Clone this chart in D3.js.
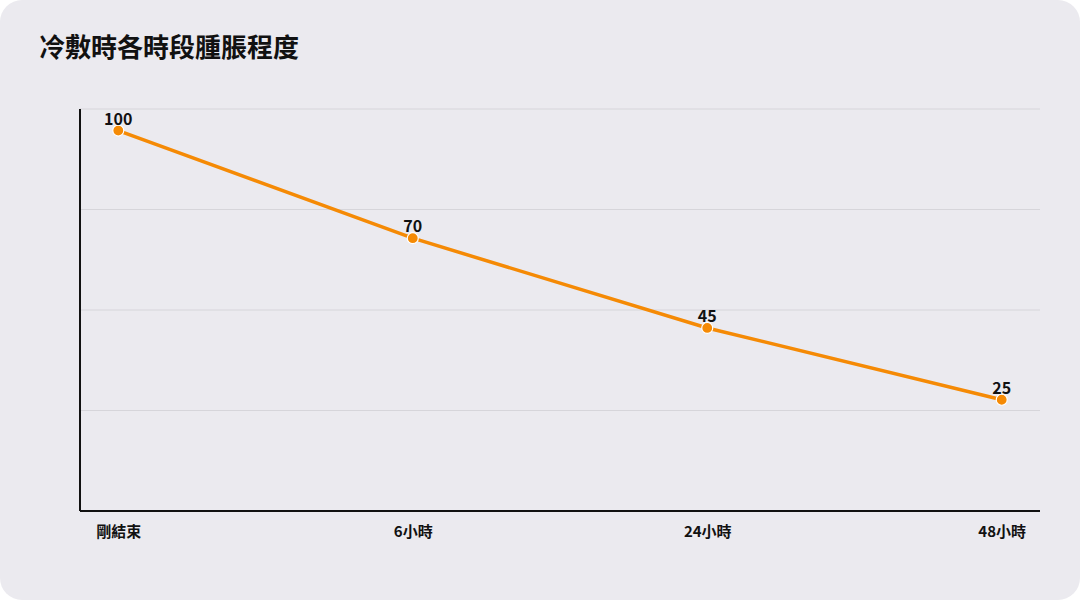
<!DOCTYPE html>
<html>
<head>
<meta charset="utf-8">
<script src="https://cdn.jsdelivr.net/npm/d3@7"></script>
<style>
  html, body { margin: 0; padding: 0; background: #ffffff; }
  svg { display: block; font-family: "Noto Sans CJK TC", "Noto Sans", sans-serif; }
</style>
</head>
<body>
<svg id="chart" width="1080" height="600"></svg>
<script>
const title = '冷敷時各時段腫脹程度';
const categories = ['剛結束', '6小時', '24小時', '48小時'];
const values = [100, 70, 45, 25];

const svg = d3.select('#chart'),
  width = +svg.attr('width'),
  height = +svg.attr('height'),
  margin = { top: 109, right: 40, bottom: 89, left: 80 },
  innerW = width - margin.left - margin.right,
  innerH = height - margin.top - margin.bottom;

svg.append('rect')
  .attr('width', width)
  .attr('height', height)
  .attr('rx', 22)
  .attr('fill', '#ebeaef');

svg.append('text')
  .attr('x', 39)
  .attr('y', 57)
  .attr('font-size', 26)
  .attr('font-weight', 700)
  .attr('fill', '#111')
  .text(title);

const g = svg.append('g')
  .attr('transform', `translate(${margin.left},${margin.top})`);

const x = d3.scalePoint()
  .domain(categories)
  .range([0, innerW])
  .padding(0.13);

const y = d3.scaleLinear()
  .domain([-6, 106])
  .range([innerH, 0]);

// gridlines (four evenly spaced, no labels)
const grid = d3.scaleLinear().domain([0, 4]).range([innerH, 0]);
g.selectAll('.grid')
  .data([1, 2, 3, 4])
  .enter()
  .append('line')
  .attr('class', 'grid')
  .attr('x1', 0)
  .attr('x2', innerW)
  .attr('y1', d => grid(d))
  .attr('y2', d => grid(d))
  .attr('stroke', '#d6d5da')
  .attr('stroke-width', 1);

// axes lines
g.append('line')
  .attr('x1', 0).attr('x2', 0)
  .attr('y1', 0).attr('y2', innerH)
  .attr('stroke', '#111').attr('stroke-width', 2);
g.append('line')
  .attr('x1', 0).attr('x2', innerW)
  .attr('y1', innerH).attr('y2', innerH)
  .attr('stroke', '#111').attr('stroke-width', 2);

const xAxis = g.append('g')
  .attr('transform', `translate(0,${innerH})`)
  .call(d3.axisBottom(x).tickSize(0).tickPadding(15));
xAxis.select('.domain').remove();
xAxis.selectAll('text')
  .attr('font-size', 15)
  .attr('font-weight', 700)
  .attr('fill', '#111')
  .attr('font-family', '"Noto Sans CJK TC", "Noto Sans", sans-serif');

const data = categories.map((c, i) => ({ cat: c, val: values[i] }));

const line = d3.line()
  .x(d => x(d.cat))
  .y(d => y(d.val));

g.append('path')
  .datum(data)
  .attr('d', line)
  .attr('fill', 'none')
  .attr('stroke', '#f58a05')
  .attr('stroke-width', 3.5);

g.selectAll('.dot')
  .data(data)
  .enter()
  .append('circle')
  .attr('class', 'dot')
  .attr('cx', d => x(d.cat))
  .attr('cy', d => y(d.val))
  .attr('r', 5.5)
  .attr('fill', '#f58a05')
  .attr('stroke', '#fff')
  .attr('stroke-width', 1.2);

g.selectAll('.val')
  .data(data)
  .enter()
  .append('text')
  .attr('class', 'val')
  .attr('x', d => x(d.cat))
  .attr('y', d => y(d.val) - 6)
  .attr('text-anchor', 'middle')
  .attr('font-size', 16)
  .attr('font-weight', 700)
  .attr('fill', '#111')
  .text(d => d.val);
</script>
</body>
</html>
